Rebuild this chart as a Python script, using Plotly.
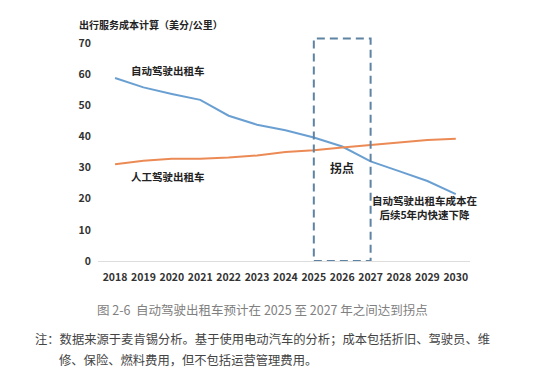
import plotly.graph_objects as go

years = list(range(2018, 2031))
auto_taxi = [58.8, 55.8, 53.7, 51.8, 46.7, 43.8, 42.0, 39.7, 36.8, 32.0, 28.9, 25.7, 21.5]
human_taxi = [31.1, 32.2, 32.9, 32.9, 33.3, 33.9, 35.0, 35.6, 36.5, 37.3, 38.0, 38.9, 39.3]
y_ticks = [0, 10, 20, 30, 40, 50, 60, 70]

FONT = "Noto Sans CJK SC"
W, H = 554, 377
L, R, T, B = 90, 92, 29, 124
PW, PH = W - L - R, H - T - B

def px(xp):
    return (xp - L) / PW

def py(yp):
    return (H - B - yp) / PH

fig = go.Figure()
fig.add_trace(go.Scatter(x=years, y=auto_taxi, mode="lines",
                         line=dict(color="#6A9FD2", width=2), hoverinfo="skip"))
fig.add_trace(go.Scatter(x=years, y=human_taxi, mode="lines",
                         line=dict(color="#EC8A55", width=2), hoverinfo="skip"))

fig.add_shape(type="rect", x0=2025, x1=2027, y0=0, y1=71.5, xref="x", yref="y",
              line=dict(color="#5F83A3", width=2, dash="8px,5px"))

lab = dict(family=FONT, size=10.5, color="#222222")
fig.add_annotation(x=2019.86, y=61.3, text="<b>自动驾驶出租车</b>", showarrow=False, font=lab)
fig.add_annotation(x=2019.86, y=27.3, text="<b>人工驾驶出租车</b>", showarrow=False, font=lab)
fig.add_annotation(x=2026.0, y=29.9, text="<b>拐点</b>", showarrow=False,
                   font=dict(family=FONT, size=12, color="#222222"))
fig.add_annotation(x=2028.88, y=17.2, text="<b>自动驾驶出租车成本在<br>后续5年内快速下降</b>",
                   showarrow=False, align="center", font=lab)

fig.add_annotation(xref="paper", yref="paper", x=px(69), y=py(16), xanchor="left", yanchor="middle",
                   text="<b>出行服务成本计算（美分/公里）</b>", showarrow=False,
                   font=dict(family=FONT, size=10, color="#222222"))

fig.add_annotation(xref="paper", yref="paper", x=px(254), y=py(301), xanchor="center", yanchor="middle",
                   text="图 2-6  自动驾驶出租车预计在 2025 至 2027 年之间达到拐点", showarrow=False,
                   font=dict(family=FONT, size=12.5, color="#808080"))
fig.add_annotation(xref="paper", yref="paper", x=px(25), y=py(331), xanchor="left", yanchor="middle",
                   text="注：数据来源于麦肯锡分析。基于使用电动汽车的分析；成本包括折旧、驾驶员、维",
                   showarrow=False, font=dict(family=FONT, size=12.3, color="#444444"))
fig.add_annotation(xref="paper", yref="paper", x=px(49), y=py(352), xanchor="left", yanchor="middle",
                   text="修、保险、燃料费用，但不包括运营管理费用。",
                   showarrow=False, font=dict(family=FONT, size=12.3, color="#444444"))

tickfont = dict(family=FONT, size=10.5, color="#333333")
fig.update_xaxes(range=[2017.4, 2030.5], tickmode="array", tickvals=years,
                 ticktext=[f"<b>{y}</b>" for y in years], tickfont=tickfont,
                 showgrid=False, zeroline=False, showline=True, linecolor="#DDDDDD",
                 linewidth=1, ticks="", ticklabelstandoff=6)
fig.update_yaxes(range=[0, 72], tickmode="array", tickvals=y_ticks,
                 ticktext=[f"<b>{v}</b>" for v in y_ticks], tickfont=tickfont,
                 showgrid=False, zeroline=False, showline=False, ticks="",
                 ticklabelstandoff=6)

fig.update_layout(width=W, height=H, margin=dict(l=L, r=R, t=T, b=B, autoexpand=False),
                  paper_bgcolor="white", plot_bgcolor="white", showlegend=False,
                  font=dict(family=FONT))

fig.write_html("out.html")
